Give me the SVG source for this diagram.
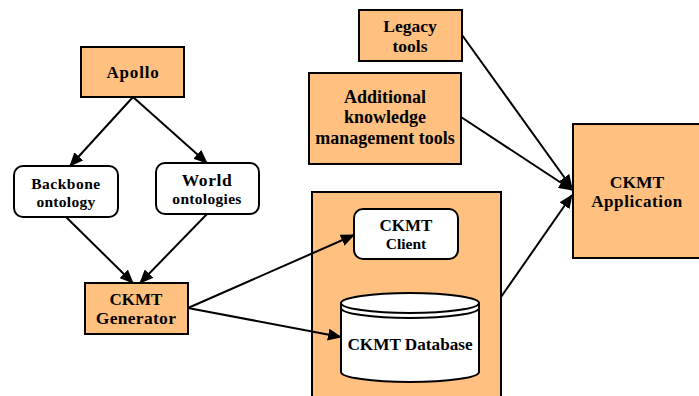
<svg xmlns="http://www.w3.org/2000/svg" width="699" height="396" viewBox="0 0 699 396">
<defs>
<marker id="arr" markerUnits="userSpaceOnUse" markerWidth="14" markerHeight="12" refX="13" refY="6" orient="auto">
<path d="M0,0 L14,6 L0,12 z" fill="#000"/>
</marker>
<style>
.box{fill:#FFC080;stroke:#000;stroke-width:2}
.wbox{fill:#fff;stroke:#000;stroke-width:2}
.e{fill:none;stroke:#000;stroke-width:2;marker-end:url(#arr)}
</style>
</defs>
<rect width="699" height="396" fill="#fff"/>
<g id="container"><rect class="box" x="312" y="192" width="189" height="210"/></g>
<g id="apollo"><rect class="box" x="81" y="47" width="103" height="50"/><text font-family="Liberation Serif" font-weight="bold" font-size="17" text-anchor="middle" x="133" y="78" letter-spacing="0.8">Apollo</text></g>
<g id="backbone"><rect class="wbox" x="14" y="166" width="104" height="51" rx="9"/><text font-family="Liberation Serif" font-weight="bold" font-size="15.5" text-anchor="middle" x="66" y="189" letter-spacing="0.5">Backbone</text><text font-family="Liberation Serif" font-weight="bold" font-size="15.5" text-anchor="middle" x="66" y="207" letter-spacing="0.3">ontology</text></g>
<g id="world"><rect class="wbox" x="156" y="163" width="103" height="51" rx="9"/><text font-family="Liberation Serif" font-weight="bold" font-size="17.5" text-anchor="middle" x="207" y="186" letter-spacing="0.6">World</text><text font-family="Liberation Serif" font-weight="bold" font-size="15.5" text-anchor="middle" x="207" y="204" letter-spacing="0.3">ontologies</text></g>
<g id="generator"><rect class="box" x="85" y="283" width="103" height="51"/><text font-family="Liberation Serif" font-weight="bold" font-size="17" text-anchor="middle" x="136" y="305">CKMT</text><text font-family="Liberation Serif" font-weight="bold" font-size="17.5" text-anchor="middle" x="136" y="324" letter-spacing="0.3">Generator</text></g>
<g id="legacy"><rect class="box" x="359" y="10" width="103" height="51"/><text font-family="Liberation Serif" font-weight="bold" font-size="17.5" text-anchor="middle" x="410" y="32">Legacy</text><text font-family="Liberation Serif" font-weight="bold" font-size="17.5" text-anchor="middle" x="410" y="52">tools</text></g>
<g id="additional"><rect class="box" x="309" y="73" width="152" height="91"/><text font-family="Liberation Serif" font-weight="bold" font-size="18" text-anchor="middle" x="385" y="103">Additional</text><text font-family="Liberation Serif" font-weight="bold" font-size="18" text-anchor="middle" x="385" y="123">knowledge</text><text font-family="Liberation Serif" font-weight="bold" font-size="18" text-anchor="middle" x="385" y="144">management tools</text></g>
<g id="client"><rect class="wbox" x="354" y="209" width="104" height="50" rx="9"/><text font-family="Liberation Serif" font-weight="bold" font-size="17" text-anchor="middle" x="406" y="231">CKMT</text><text font-family="Liberation Serif" font-weight="bold" font-size="15.5" text-anchor="middle" x="406" y="249">Client</text></g>
<g id="database">
<path class="wbox" d="M341,303 A69,10 0 0 1 479,303 L479,372 A69,10 0 0 1 341,372 Z"/>
<path d="M341,303 A69,10 0 0 0 479,303" fill="none" stroke="#000" stroke-width="2"/>
<path d="M341,308 A69,10 0 0 0 479,308" fill="none" stroke="#000" stroke-width="2"/>
<text font-family="Liberation Serif" font-weight="bold" font-size="17.2" text-anchor="middle" x="410" y="350">CKMT Database</text>
</g>
<g id="application"><rect class="box" x="573" y="124" width="130" height="134"/><text font-family="Liberation Serif" font-weight="bold" font-size="17.5" text-anchor="middle" x="637" y="188">CKMT</text><text font-family="Liberation Serif" font-weight="bold" font-size="17" text-anchor="middle" x="637" y="207" letter-spacing="0.6">Application</text></g>
<g id="connectors">
<line class="e" x1="133" y1="97" x2="70" y2="166"/>
<line class="e" x1="133" y1="97" x2="207" y2="163"/>
<line class="e" x1="66" y1="217" x2="133" y2="283"/>
<line class="e" x1="207" y1="214" x2="140" y2="283"/>
<line class="e" x1="188" y1="308" x2="354" y2="235"/>
<line class="e" x1="188" y1="308" x2="341" y2="337"/>
<line class="e" x1="462" y1="35" x2="572" y2="188"/>
<line class="e" x1="461" y1="117" x2="572" y2="190"/>
<line class="e" x1="501" y1="297" x2="572" y2="195"/>
</g>
</svg>
